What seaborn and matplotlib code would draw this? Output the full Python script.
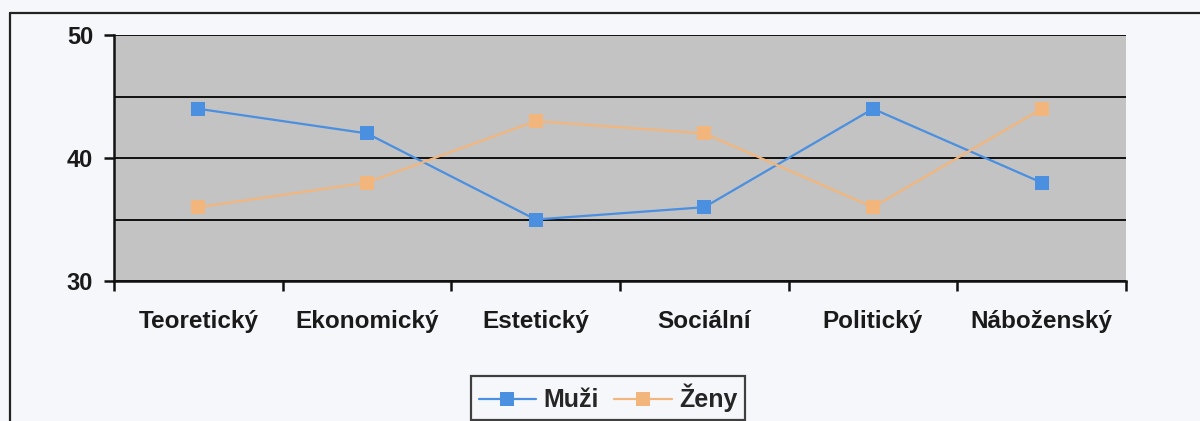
import matplotlib
matplotlib.use("Agg")
import matplotlib.pyplot as plt
from matplotlib.lines import Line2D
import numpy as np
import pandas as pd
import seaborn as sns

# data
kategorie = ["Teoretický", "Ekonomický", "Estetický", "Sociální", "Politický", "Náboženský"]
muzi = [44, 42, 35, 36, 44, 38]
zeny = [36, 38, 43, 42, 36, 44]
serie = ["Muži", "Ženy"]
barvy = {"Muži": "#4a8fe0", "Ženy": "#f2b67c"}

df = pd.DataFrame({
    "kategorie": kategorie * 2,
    "hodnota": muzi + zeny,
    "pohlavi": [serie[0]] * len(muzi) + [serie[1]] * len(zeny),
})

sns.set_style("white")
plt.rcParams["font.family"] = ["Liberation Sans", "DejaVu Sans"]
plt.rcParams["font.weight"] = "bold"

fig = plt.figure(figsize=(12, 4.21), dpi=100, facecolor="#f6f7fb")
ax = fig.add_axes([114 / 1200, 1 - 281 / 421, (1126 - 114) / 1200, (281 - 35) / 421])
ax.set_facecolor("#c3c3c3")

sns.lineplot(data=df, x="kategorie", y="hodnota", hue="pohlavi", palette=barvy,
             marker="s", markersize=10, markeredgewidth=0, linewidth=1.6,
             sort=False, ax=ax, legend=False)

ax.set_xlim(-0.5, len(kategorie) - 0.5)
ax.set_ylim(30, 50)
ax.set_xlabel("")
ax.set_ylabel("")

ax.set_xticks(range(len(kategorie)))
ax.set_xticklabels(kategorie)
ax.set_xticks(np.arange(-0.5, len(kategorie), 1), minor=True)
ax.tick_params(axis="x", which="both", bottom=True)
ax.tick_params(axis="x", which="major", length=0, pad=21, labelsize=17.5, labelcolor="#1a1a1a")
ax.tick_params(axis="x", which="minor", length=7, width=1.8, color="#111111", direction="out")

ax.set_yticks([30, 40, 50])
ax.set_yticks([35, 45], minor=True)
ax.tick_params(axis="y", which="both", left=True)
ax.tick_params(axis="y", which="major", length=7, width=1.8, color="#111111",
               direction="out", labelsize=17, labelcolor="#1a1a1a", pad=8)
ax.tick_params(axis="y", which="minor", length=0)
ax.yaxis.grid(True, which="both", color="#111111", linewidth=1.4)
ax.xaxis.grid(False)
ax.set_axisbelow(True)

for s in ["top", "right"]:
    ax.spines[s].set_visible(False)
for s in ["left", "bottom"]:
    ax.spines[s].set_color("#111111")
    ax.spines[s].set_linewidth(1.8)

# outer chart frame (left and top edges visible)
fig.add_artist(Line2D([10 / 1200, 10 / 1200], [0, 1 - 13 / 421], transform=fig.transFigure,
                      color="#222222", linewidth=1.6))
fig.add_artist(Line2D([10 / 1200, 1], [1 - 13 / 421, 1 - 13 / 421], transform=fig.transFigure,
                      color="#222222", linewidth=1.6))

handles = [Line2D([0], [0], color=barvy[s], marker="s", markersize=10,
                  markeredgewidth=0, linewidth=1.6) for s in serie]
leg = fig.legend(handles, serie, loc="center", bbox_to_anchor=(608 / 1200, 1 - 398 / 421),
                 ncol=2, frameon=True, fancybox=False, handlelength=2.3,
                 columnspacing=0.6, handletextpad=0.3, borderpad=0.3,
                 prop={"weight": "bold", "size": 18})
leg.get_frame().set_edgecolor("#111111")
leg.get_frame().set_linewidth(1.6)
leg.get_frame().set_facecolor("#f6f7fb")

fig.savefig("out.png", dpi=100, facecolor=fig.get_facecolor())
